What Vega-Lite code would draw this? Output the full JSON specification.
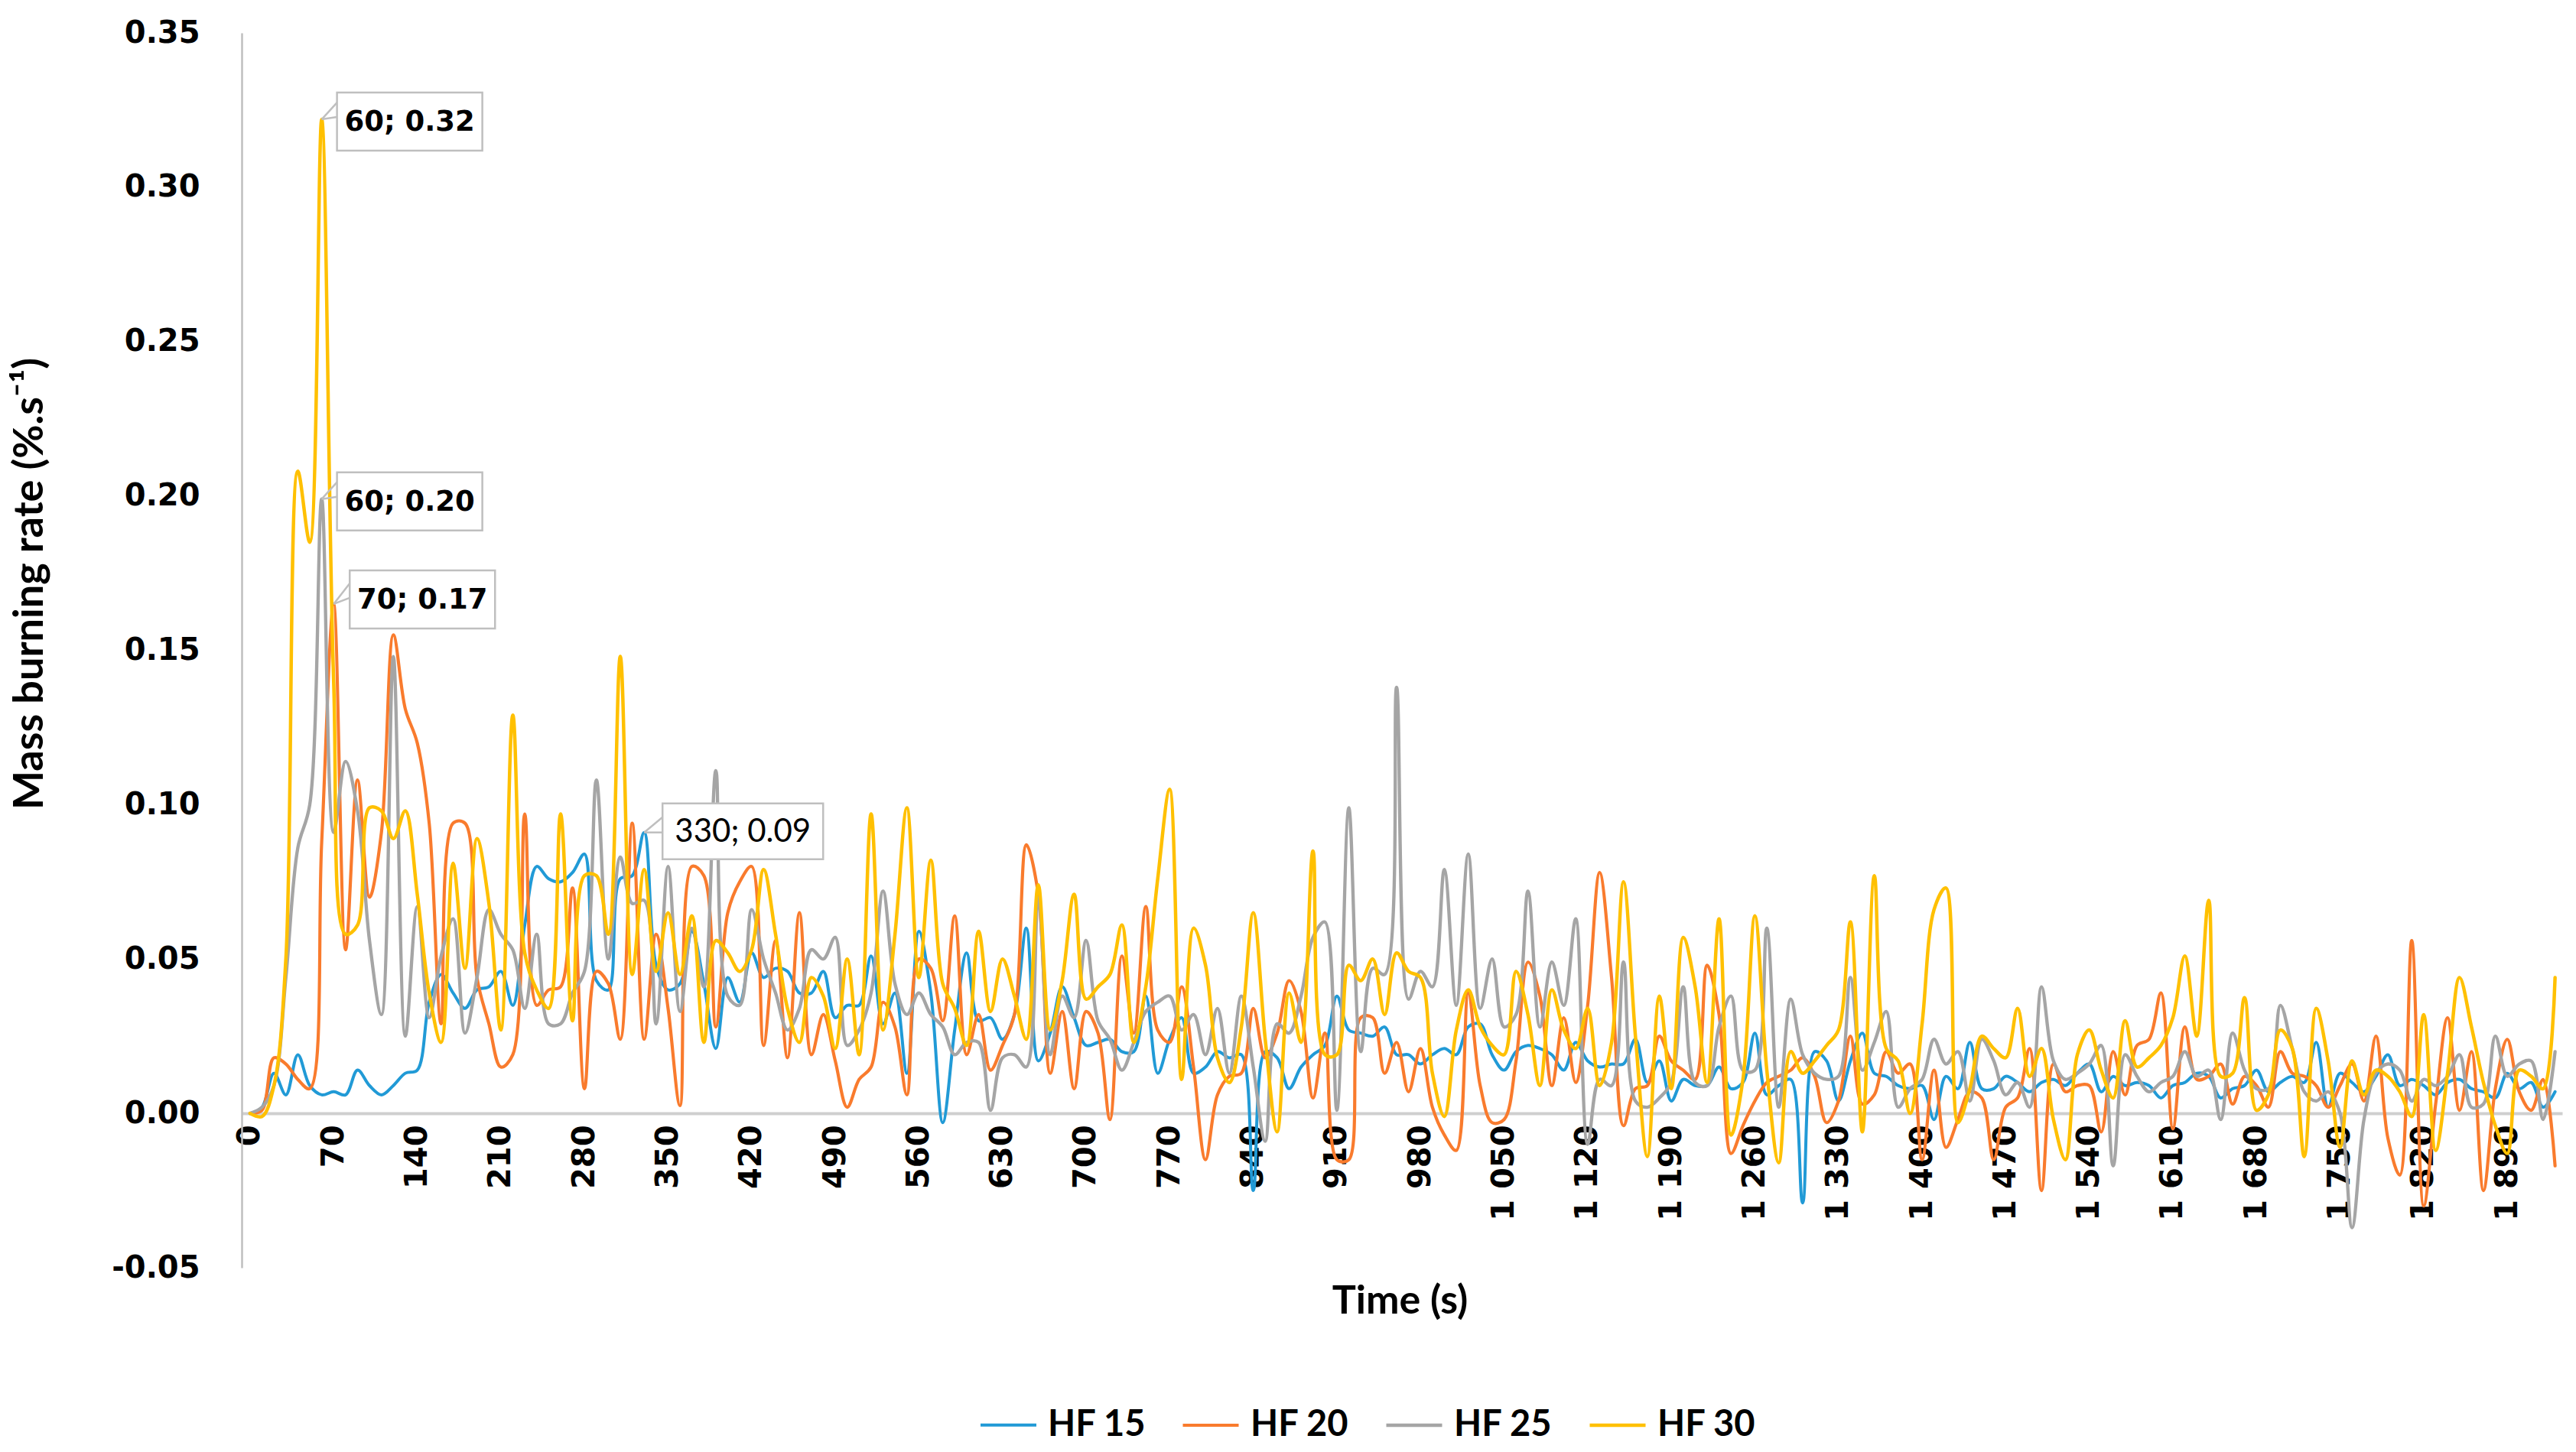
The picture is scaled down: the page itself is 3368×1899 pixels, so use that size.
{
  "$schema": "https://vega.github.io/schema/vega-lite/v6.json",
  "width": 3034,
  "height": 1615,
  "autosize": {"type": "none"},
  "padding": {"left": 316, "top": 43, "right": 18, "bottom": 241},
  "background": "white",
  "config": {"view": {"stroke": null}},
  "datasets": {
    "hf": [
      {"t":0,"HF 15":0,"HF 20":0,"HF 25":0,"HF 30":0},
      {"t":10,"HF 15":0.002,"HF 20":0.001,"HF 25":0.002,"HF 30":-0.001},
      {"t":20,"HF 15":0.013,"HF 20":0.018,"HF 25":0.009,"HF 30":0.009},
      {"t":30,"HF 15":0.006,"HF 20":0.016,"HF 25":0.044,"HF 30":0.05},
      {"t":40,"HF 15":0.019,"HF 20":0.011,"HF 25":0.086,"HF 30":0.208},
      {"t":50,"HF 15":0.009,"HF 20":0.008,"HF 25":0.1,"HF 30":0.185},
      {"t":60,"HF 15":0.006,"HF 20":0.088,"HF 25":0.199,"HF 30":0.322},
      {"t":70,"HF 15":0.007,"HF 20":0.165,"HF 25":0.091,"HF 30":0.14},
      {"t":80,"HF 15":0.006,"HF 20":0.053,"HF 25":0.114,"HF 30":0.058},
      {"t":90,"HF 15":0.014,"HF 20":0.108,"HF 25":0.098,"HF 30":0.061},
      {"t":100,"HF 15":0.009,"HF 20":0.07,"HF 25":0.056,"HF 30":0.099},
      {"t":110,"HF 15":0.006,"HF 20":0.091,"HF 25":0.032,"HF 30":0.098},
      {"t":120,"HF 15":0.009,"HF 20":0.155,"HF 25":0.148,"HF 30":0.089},
      {"t":130,"HF 15":0.013,"HF 20":0.131,"HF 25":0.025,"HF 30":0.098},
      {"t":140,"HF 15":0.014,"HF 20":0.12,"HF 25":0.067,"HF 30":0.071},
      {"t":150,"HF 15":0.036,"HF 20":0.094,"HF 25":0.031,"HF 30":0.039},
      {"t":160,"HF 15":0.045,"HF 20":0.029,"HF 25":0.051,"HF 30":0.023},
      {"t":170,"HF 15":0.039,"HF 20":0.094,"HF 25":0.063,"HF 30":0.081},
      {"t":180,"HF 15":0.034,"HF 20":0.094,"HF 25":0.026,"HF 30":0.047},
      {"t":190,"HF 15":0.04,"HF 20":0.044,"HF 25":0.044,"HF 30":0.089},
      {"t":200,"HF 15":0.041,"HF 20":0.029,"HF 25":0.066,"HF 30":0.068},
      {"t":210,"HF 15":0.046,"HF 20":0.015,"HF 25":0.058,"HF 30":0.027},
      {"t":220,"HF 15":0.035,"HF 20":0.019,"HF 25":0.053,"HF 30":0.129},
      {"t":230,"HF 15":0.061,"HF 20":0.097,"HF 25":0.034,"HF 30":0.052},
      {"t":240,"HF 15":0.08,"HF 20":0.035,"HF 25":0.058,"HF 30":0.04},
      {"t":250,"HF 15":0.076,"HF 20":0.04,"HF 25":0.029,"HF 30":0.034},
      {"t":260,"HF 15":0.075,"HF 20":0.041,"HF 25":0.029,"HF 30":0.097},
      {"t":270,"HF 15":0.078,"HF 20":0.073,"HF 25":0.039,"HF 30":0.03},
      {"t":280,"HF 15":0.084,"HF 20":0.008,"HF 25":0.046,"HF 30":0.077},
      {"t":290,"HF 15":0.043,"HF 20":0.046,"HF 25":0.108,"HF 30":0.077},
      {"t":300,"HF 15":0.04,"HF 20":0.042,"HF 25":0.05,"HF 30":0.058},
      {"t":310,"HF 15":0.076,"HF 20":0.024,"HF 25":0.083,"HF 30":0.148},
      {"t":320,"HF 15":0.077,"HF 20":0.094,"HF 25":0.068,"HF 30":0.045},
      {"t":330,"HF 15":0.091,"HF 20":0.024,"HF 25":0.069,"HF 30":0.079},
      {"t":340,"HF 15":0.048,"HF 20":0.058,"HF 25":0.029,"HF 30":0.046},
      {"t":350,"HF 15":0.04,"HF 20":0.034,"HF 25":0.08,"HF 30":0.065},
      {"t":360,"HF 15":0.042,"HF 20":0.0025,"HF 25":0.033,"HF 30":0.045},
      {"t":370,"HF 15":0.059,"HF 20":0.08,"HF 25":0.06,"HF 30":0.064},
      {"t":380,"HF 15":0.042,"HF 20":0.077,"HF 25":0.041,"HF 30":0.023},
      {"t":390,"HF 15":0.021,"HF 20":0.028,"HF 25":0.111,"HF 30":0.056},
      {"t":400,"HF 15":0.044,"HF 20":0.065,"HF 25":0.038,"HF 30":0.052},
      {"t":410,"HF 15":0.036,"HF 20":0.075,"HF 25":0.035,"HF 30":0.046},
      {"t":420,"HF 15":0.052,"HF 20":0.08,"HF 25":0.066,"HF 30":0.053},
      {"t":430,"HF 15":0.044,"HF 20":0.022,"HF 25":0.05,"HF 30":0.079},
      {"t":440,"HF 15":0.047,"HF 20":0.056,"HF 25":0.039,"HF 30":0.058},
      {"t":450,"HF 15":0.046,"HF 20":0.018,"HF 25":0.027,"HF 30":0.034},
      {"t":460,"HF 15":0.039,"HF 20":0.065,"HF 25":0.034,"HF 30":0.023},
      {"t":470,"HF 15":0.039,"HF 20":0.019,"HF 25":0.053,"HF 30":0.044},
      {"t":480,"HF 15":0.046,"HF 20":0.032,"HF 25":0.05,"HF 30":0.038},
      {"t":490,"HF 15":0.031,"HF 20":0.017,"HF 25":0.057,"HF 30":0.021},
      {"t":500,"HF 15":0.035,"HF 20":0.002,"HF 25":0.022,"HF 30":0.05},
      {"t":510,"HF 15":0.035,"HF 20":0.011,"HF 25":0.027,"HF 30":0.019},
      {"t":520,"HF 15":0.051,"HF 20":0.015,"HF 25":0.039,"HF 30":0.097},
      {"t":530,"HF 15":0.029,"HF 20":0.036,"HF 25":0.072,"HF 30":0.027},
      {"t":540,"HF 15":0.039,"HF 20":0.028,"HF 25":0.042,"HF 30":0.058},
      {"t":550,"HF 15":0.013,"HF 20":0.006,"HF 25":0.032,"HF 30":0.099},
      {"t":560,"HF 15":0.059,"HF 20":0.05,"HF 25":0.039,"HF 30":0.044},
      {"t":570,"HF 15":0.039,"HF 20":0.047,"HF 25":0.032,"HF 30":0.082},
      {"t":580,"HF 15":-0.003,"HF 20":0.03,"HF 25":0.028,"HF 30":0.042},
      {"t":590,"HF 15":0.027,"HF 20":0.064,"HF 25":0.019,"HF 30":0.034},
      {"t":600,"HF 15":0.052,"HF 20":0.019,"HF 25":0.023,"HF 30":0.022},
      {"t":610,"HF 15":0.03,"HF 20":0.032,"HF 25":0.023,"HF 30":0.059},
      {"t":620,"HF 15":0.031,"HF 20":0.014,"HF 25":0.001,"HF 30":0.033},
      {"t":630,"HF 15":0.024,"HF 20":0.022,"HF 25":0.018,"HF 30":0.05},
      {"t":640,"HF 15":0.032,"HF 20":0.032,"HF 25":0.019,"HF 30":0.038},
      {"t":650,"HF 15":0.06,"HF 20":0.087,"HF 25":0.015,"HF 30":0.024},
      {"t":660,"HF 15":0.017,"HF 20":0.071,"HF 25":0.07,"HF 30":0.074},
      {"t":670,"HF 15":0.026,"HF 20":0.013,"HF 25":0.019,"HF 30":0.027},
      {"t":680,"HF 15":0.041,"HF 20":0.033,"HF 25":0.038,"HF 30":0.043},
      {"t":690,"HF 15":0.031,"HF 20":0.008,"HF 25":0.031,"HF 30":0.071},
      {"t":700,"HF 15":0.022,"HF 20":0.033,"HF 25":0.056,"HF 30":0.037},
      {"t":710,"HF 15":0.023,"HF 20":0.026,"HF 25":0.03,"HF 30":0.041},
      {"t":720,"HF 15":0.024,"HF 20":-0.002,"HF 25":0.024,"HF 30":0.045},
      {"t":730,"HF 15":0.02,"HF 20":0.051,"HF 25":0.014,"HF 30":0.061},
      {"t":740,"HF 15":0.02,"HF 20":0.026,"HF 25":0.023,"HF 30":0.023},
      {"t":750,"HF 15":0.038,"HF 20":0.067,"HF 25":0.033,"HF 30":0.041},
      {"t":760,"HF 15":0.013,"HF 20":0.027,"HF 25":0.036,"HF 30":0.076},
      {"t":770,"HF 15":0.024,"HF 20":0.023,"HF 25":0.038,"HF 30":0.105},
      {"t":780,"HF 15":0.031,"HF 20":0.041,"HF 25":0.027,"HF 30":0.011},
      {"t":790,"HF 15":0.013,"HF 20":0.015,"HF 25":0.032,"HF 30":0.06},
      {"t":800,"HF 15":0.015,"HF 20":-0.015,"HF 25":0.019,"HF 30":0.048},
      {"t":810,"HF 15":0.02,"HF 20":0.006,"HF 25":0.034,"HF 30":0.018},
      {"t":820,"HF 15":0.018,"HF 20":0.012,"HF 25":0.013,"HF 30":0.01},
      {"t":830,"HF 15":0.019,"HF 20":0.013,"HF 25":0.038,"HF 30":0.028},
      {"t":840,"HF 15":-0.025,"HF 20":0.034,"HF 25":0.015,"HF 30":0.065},
      {"t":850,"HF 15":0.02,"HF 20":0.018,"HF 25":-0.009,"HF 30":0.024},
      {"t":860,"HF 15":0.018,"HF 20":0.026,"HF 25":0.029,"HF 30":-0.006},
      {"t":870,"HF 15":0.008,"HF 20":0.043,"HF 25":0.026,"HF 30":0.039},
      {"t":880,"HF 15":0.015,"HF 20":0.033,"HF 25":0.038,"HF 30":0.023},
      {"t":890,"HF 15":0.019,"HF 20":0.005,"HF 25":0.057,"HF 30":0.085},
      {"t":900,"HF 15":0.022,"HF 20":0.026,"HF 25":0.062,"HF 30":0.019},
      {"t":910,"HF 15":0.038,"HF 20":-0.015,"HF 25":0.001,"HF 30":0.019},
      {"t":920,"HF 15":0.027,"HF 20":-0.015,"HF 25":0.099,"HF 30":0.048},
      {"t":930,"HF 15":0.026,"HF 20":0.031,"HF 25":0.02,"HF 30":0.043},
      {"t":940,"HF 15":0.025,"HF 20":0.031,"HF 25":0.047,"HF 30":0.05},
      {"t":950,"HF 15":0.028,"HF 20":0.013,"HF 25":0.045,"HF 30":0.032},
      {"t":960,"HF 15":0.019,"HF 20":0.023,"HF 25":0.138,"HF 30":0.052},
      {"t":970,"HF 15":0.019,"HF 20":0.007,"HF 25":0.037,"HF 30":0.046},
      {"t":980,"HF 15":0.016,"HF 20":0.021,"HF 25":0.046,"HF 30":0.044},
      {"t":990,"HF 15":0.019,"HF 20":0.002,"HF 25":0.041,"HF 30":0.013},
      {"t":1000,"HF 15":0.021,"HF 20":-0.007,"HF 25":0.079,"HF 30":-0.001},
      {"t":1010,"HF 15":0.019,"HF 20":-0.012,"HF 25":0.035,"HF 30":0.027},
      {"t":1020,"HF 15":0.028,"HF 20":0.039,"HF 25":0.084,"HF 30":0.04},
      {"t":1030,"HF 15":0.029,"HF 20":0.009,"HF 25":0.034,"HF 30":0.028},
      {"t":1040,"HF 15":0.019,"HF 20":-0.003,"HF 25":0.05,"HF 30":0.022},
      {"t":1050,"HF 15":0.014,"HF 20":-0.002,"HF 25":0.028,"HF 30":0.019},
      {"t":1060,"HF 15":0.02,"HF 20":0.017,"HF 25":0.032,"HF 30":0.046},
      {"t":1070,"HF 15":0.022,"HF 20":0.049,"HF 25":0.072,"HF 30":0.032},
      {"t":1080,"HF 15":0.021,"HF 20":0.038,"HF 25":0.028,"HF 30":0.009},
      {"t":1090,"HF 15":0.019,"HF 20":0.009,"HF 25":0.049,"HF 30":0.04},
      {"t":1100,"HF 15":0.014,"HF 20":0.031,"HF 25":0.035,"HF 30":0.027},
      {"t":1110,"HF 15":0.023,"HF 20":0.01,"HF 25":0.063,"HF 30":0.021},
      {"t":1120,"HF 15":0.017,"HF 20":0.035,"HF 25":-0.01,"HF 30":0.034},
      {"t":1130,"HF 15":0.015,"HF 20":0.078,"HF 25":0.011,"HF 30":0.009},
      {"t":1140,"HF 15":0.016,"HF 20":0.044,"HF 25":0.009,"HF 30":0.023},
      {"t":1150,"HF 15":0.016,"HF 20":-0.004,"HF 25":0.049,"HF 30":0.075},
      {"t":1160,"HF 15":0.024,"HF 20":0.008,"HF 25":0.004,"HF 30":0.025},
      {"t":1170,"HF 15":0.01,"HF 20":0.009,"HF 25":0.002,"HF 30":-0.014},
      {"t":1180,"HF 15":0.017,"HF 20":0.025,"HF 25":0.005,"HF 30":0.038},
      {"t":1190,"HF 15":0.004,"HF 20":0.017,"HF 25":0.01,"HF 30":0.008},
      {"t":1200,"HF 15":0.011,"HF 20":0.014,"HF 25":0.041,"HF 30":0.057},
      {"t":1210,"HF 15":0.009,"HF 20":0.011,"HF 25":0.01,"HF 30":0.041},
      {"t":1220,"HF 15":0.009,"HF 20":0.048,"HF 25":0.009,"HF 30":0.01},
      {"t":1230,"HF 15":0.015,"HF 20":0.032,"HF 25":0.028,"HF 30":0.063},
      {"t":1240,"HF 15":0.008,"HF 20":-0.013,"HF 25":0.038,"HF 30":-0.007},
      {"t":1250,"HF 15":0.01,"HF 20":-0.004,"HF 25":0.014,"HF 30":0.011},
      {"t":1260,"HF 15":0.026,"HF 20":0.004,"HF 25":0.014,"HF 30":0.064},
      {"t":1270,"HF 15":0.006,"HF 20":0.01,"HF 25":0.06,"HF 30":0.014},
      {"t":1280,"HF 15":0.009,"HF 20":0.012,"HF 25":0.002,"HF 30":-0.016},
      {"t":1290,"HF 15":0.011,"HF 20":0.014,"HF 25":0.037,"HF 30":0.02},
      {"t":1300,"HF 15":-0.029,"HF 20":0.018,"HF 25":0.019,"HF 30":0.013},
      {"t":1310,"HF 15":0.02,"HF 20":0.012,"HF 25":0.013,"HF 30":0.017},
      {"t":1320,"HF 15":0.017,"HF 20":-0.003,"HF 25":0.011,"HF 30":0.022},
      {"t":1330,"HF 15":0.004,"HF 20":0.004,"HF 25":0.012,"HF 30":0.027},
      {"t":1340,"HF 15":0.017,"HF 20":0.025,"HF 25":0.044,"HF 30":0.062},
      {"t":1350,"HF 15":0.026,"HF 20":0.003,"HF 25":0.014,"HF 30":-0.006},
      {"t":1360,"HF 15":0.013,"HF 20":0.006,"HF 25":0.023,"HF 30":0.077},
      {"t":1370,"HF 15":0.012,"HF 20":0.02,"HF 25":0.033,"HF 30":0.021},
      {"t":1380,"HF 15":0.009,"HF 20":0.013,"HF 25":0.002,"HF 30":0.017},
      {"t":1390,"HF 15":0.008,"HF 20":0.016,"HF 25":0.008,"HF 30":0},
      {"t":1400,"HF 15":0.009,"HF 20":-0.015,"HF 25":0.011,"HF 30":0.029},
      {"t":1410,"HF 15":-0.002,"HF 20":0.014,"HF 25":0.024,"HF 30":0.066},
      {"t":1420,"HF 15":0.012,"HF 20":-0.011,"HF 25":0.016,"HF 30":0.073},
      {"t":1430,"HF 15":0.008,"HF 20":-0.002,"HF 25":0.02,"HF 30":-0.003},
      {"t":1440,"HF 15":0.023,"HF 20":0.007,"HF 25":0.004,"HF 30":0.008},
      {"t":1450,"HF 15":0.008,"HF 20":0.005,"HF 25":0.024,"HF 30":0.025},
      {"t":1460,"HF 15":0.008,"HF 20":-0.015,"HF 25":0.017,"HF 30":0.021},
      {"t":1470,"HF 15":0.012,"HF 20":0.002,"HF 25":0.006,"HF 30":0.018},
      {"t":1480,"HF 15":0.01,"HF 20":0.005,"HF 25":0.01,"HF 30":0.034},
      {"t":1490,"HF 15":0.007,"HF 20":0.021,"HF 25":0.002,"HF 30":0.012},
      {"t":1500,"HF 15":0.01,"HF 20":-0.025,"HF 25":0.041,"HF 30":0.021},
      {"t":1510,"HF 15":0.011,"HF 20":0.016,"HF 25":0.017,"HF 30":-0.002},
      {"t":1520,"HF 15":0.009,"HF 20":0.007,"HF 25":0.011,"HF 30":-0.015},
      {"t":1530,"HF 15":0.013,"HF 20":0.009,"HF 25":0.013,"HF 30":0.019},
      {"t":1540,"HF 15":0.016,"HF 20":0.009,"HF 25":0.016,"HF 30":0.027},
      {"t":1550,"HF 15":0.007,"HF 20":-0.006,"HF 25":0.022,"HF 30":0.014},
      {"t":1560,"HF 15":0.012,"HF 20":0.02,"HF 25":-0.017,"HF 30":0.005},
      {"t":1570,"HF 15":0.009,"HF 20":0.006,"HF 25":0.019,"HF 30":0.03},
      {"t":1580,"HF 15":0.01,"HF 20":0.022,"HF 25":0.012,"HF 30":0.015},
      {"t":1590,"HF 15":0.009,"HF 20":0.024,"HF 25":0.007,"HF 30":0.018},
      {"t":1600,"HF 15":0.005,"HF 20":0.039,"HF 25":0.01,"HF 30":0.022},
      {"t":1610,"HF 15":0.009,"HF 20":-0.005,"HF 25":0.012,"HF 30":0.031},
      {"t":1620,"HF 15":0.01,"HF 20":0.028,"HF 25":0.02,"HF 30":0.051},
      {"t":1630,"HF 15":0.013,"HF 20":0.011,"HF 25":0.012,"HF 30":0.025},
      {"t":1640,"HF 15":0.012,"HF 20":0.012,"HF 25":0.014,"HF 30":0.069},
      {"t":1650,"HF 15":0.005,"HF 20":0.016,"HF 25":-0.002,"HF 30":0.012},
      {"t":1660,"HF 15":0.008,"HF 20":0.003,"HF 25":0.026,"HF 30":0.013},
      {"t":1670,"HF 15":0.009,"HF 20":0.012,"HF 25":0.014,"HF 30":0.0375},
      {"t":1680,"HF 15":0.014,"HF 20":0.009,"HF 25":0.008,"HF 30":0.001},
      {"t":1690,"HF 15":0.007,"HF 20":0.002,"HF 25":0.008,"HF 30":0.006},
      {"t":1700,"HF 15":0.01,"HF 20":0.02,"HF 25":0.035,"HF 30":0.027},
      {"t":1710,"HF 15":0.012,"HF 20":0.013,"HF 25":0.021,"HF 30":0.021},
      {"t":1720,"HF 15":0.01,"HF 20":0.012,"HF 25":0.007,"HF 30":-0.014},
      {"t":1730,"HF 15":0.023,"HF 20":0.009,"HF 25":0.004,"HF 30":0.034},
      {"t":1740,"HF 15":0.002,"HF 20":0.002,"HF 25":0.007,"HF 30":0.017},
      {"t":1750,"HF 15":0.013,"HF 20":0.009,"HF 25":0,"HF 30":-0.011},
      {"t":1760,"HF 15":0.01,"HF 20":0.016,"HF 25":-0.037,"HF 30":0.017},
      {"t":1770,"HF 15":0.007,"HF 20":0.004,"HF 25":-0.002,"HF 30":0.006},
      {"t":1780,"HF 15":0.012,"HF 20":0.025,"HF 25":0.013,"HF 30":0.014},
      {"t":1790,"HF 15":0.019,"HF 20":-0.008,"HF 25":0.016,"HF 30":0.012},
      {"t":1800,"HF 15":0.009,"HF 20":-0.02,"HF 25":0.014,"HF 30":0.007},
      {"t":1810,"HF 15":0.011,"HF 20":0.056,"HF 25":0.004,"HF 30":-0.001},
      {"t":1820,"HF 15":0.009,"HF 20":-0.03,"HF 25":0.011,"HF 30":0.032},
      {"t":1830,"HF 15":0.006,"HF 20":0.003,"HF 25":0.009,"HF 30":-0.012},
      {"t":1840,"HF 15":0.01,"HF 20":0.031,"HF 25":0.012,"HF 30":0.013},
      {"t":1850,"HF 15":0.011,"HF 20":0.001,"HF 25":0.019,"HF 30":0.044},
      {"t":1860,"HF 15":0.008,"HF 20":0.02,"HF 25":0.002,"HF 30":0.028},
      {"t":1870,"HF 15":0.007,"HF 20":-0.025,"HF 25":0.003,"HF 30":0.01},
      {"t":1880,"HF 15":0.005,"HF 20":0.008,"HF 25":0.025,"HF 30":-0.004},
      {"t":1890,"HF 15":0.013,"HF 20":0.024,"HF 25":0.012,"HF 30":-0.013},
      {"t":1900,"HF 15":0.008,"HF 20":0.007,"HF 25":0.016,"HF 30":0.014},
      {"t":1910,"HF 15":0.01,"HF 20":0.001,"HF 25":0.017,"HF 30":0.012},
      {"t":1920,"HF 15":0.002,"HF 20":0.011,"HF 25":-0.002,"HF 30":0.008},
      {"t":1930,"HF 15":0.007,"HF 20":-0.017,"HF 25":0.02,"HF 30":0.044}
    ],
    "notes": [
      {"t":60,"v":0.322,"label":"60; 0.32"},
      {"t":60,"v":0.199,"label":"60; 0.20"},
      {"t":70,"v":0.165,"label":"70; 0.17"},
      {"t":330,"v":0.091,"label":"330; 0.09"}
    ]
  },
  "encoding": {
    "x": {
      "field": "t", "type": "quantitative",
      "scale": {"domain": [-7, 1936], "nice": false, "zero": false},
      "axis": {
        "values": [0,70,140,210,280,350,420,490,560,630,700,770,840,910,980,1050,1120,1190,1260,1330,1400,1470,1540,1610,1680,1750,1820,1890],
        "labelExpr": "replace(format(datum.value, ','), ',', ' ')",
        "labelAngle": -90,
        "labelFont": "DejaVu Sans", "labelFontWeight": "bold", "labelFontSize": 40, "labelColor": "#000000",
        "labelPadding": 15, "labelOverlap": false, "labelFlush": false, "labelBound": false,
        "ticks": false, "grid": false,
        "domainColor": "#CFCFCF", "domainWidth": 4,
        "offset": -202,
        "title": "Time (s)", "titleFont": "Lato", "titleFontSize": 52, "titleFontWeight": "bold", "titleColor": "#000000",
        "titleX": 1514, "titleY": 245, "titleBaseline": "middle", "titleAlign": "center"
      }
    },
    "y": {
      "field": "v", "type": "quantitative",
      "scale": {"domain": [-0.05, 0.35], "nice": false, "zero": false},
      "axis": {
        "values": [-0.05,0,0.05,0.1,0.15,0.2,0.25,0.3,0.35],
        "labelExpr": "replace(format(datum.value, '.2f'), '\u2212', '-')",
        "labelFont": "DejaVu Sans", "labelFontWeight": "bold", "labelFontSize": 40, "labelColor": "#000000",
        "labelPadding": 55, "labelFlush": false, "labelOverlap": false,
        "ticks": false, "grid": false,
        "domainColor": "#BFBFBF", "domainWidth": 2.5,
        "title": "Mass burning rate  (%.s⁻¹)", "titleFont": "Lato", "titleFontSize": 54, "titleFontWeight": "bold", "titleColor": "#000000",
        "titleX": -277, "titleY": 720, "titleAngle": 270, "titleAlign": "center", "titleBaseline": "middle"
      }
    }
  },
  "layer": [
    {
      "data": {"name": "hf"},
      "transform": [{"fold": ["HF 15", "HF 20", "HF 25", "HF 30"], "as": ["series", "v"]}],
      "mark": {"type": "line", "interpolate": "catmull-rom", "strokeCap": "round", "strokeJoin": "round"},
      "encoding": {
        "color": {
          "field": "series", "type": "nominal",
          "scale": {"domain": ["HF 15", "HF 20", "HF 25", "HF 30"], "range": ["#219AD6", "#F97B2D", "#A5A5A5", "#FFC000"]},
          "legend": {
            "orient": "none", "legendX": 964, "legendY": 1782, "direction": "horizontal", "title": null,
            "symbolType": "stroke", "symbolSize": 5329, "symbolStrokeWidth": 6,
            "labelFont": "Lato", "labelFontSize": 47, "labelFontWeight": "bold", "labelColor": "#000000",
            "labelOffset": 13, "columnPadding": 39, "labelLimit": 400
          }
        },
        "strokeWidth": {
          "field": "series", "type": "nominal",
          "scale": {"domain": ["HF 15", "HF 20", "HF 25", "HF 30"], "range": [4, 4.5, 4.5, 6]},
          "legend": null
        },
        "order": {"field": "t", "type": "quantitative"}
      }
    },
    {
      "data": {"name": "notes"},
      "transform": [{"filter": "datum.t == 60"}],
      "mark": {"type": "rule", "color": "#BFBFBF", "strokeWidth": 2.5, "x2Offset": 20, "y2Offset": -22},
      "encoding": {"x2": {"field": "t"}, "y2": {"field": "v"}}
    },
    {
      "data": {"name": "notes"},
      "transform": [{"filter": "datum.t == 60"}],
      "mark": {"type": "rule", "color": "#BFBFBF", "strokeWidth": 2.5, "x2Offset": 20, "y2Offset": -3},
      "encoding": {"x2": {"field": "t"}, "y2": {"field": "v"}}
    },
    {
      "data": {"name": "notes"},
      "transform": [{"filter": "datum.t == 60"}],
      "mark": {"type": "rect", "fill": "#FFFFFF", "stroke": "#BFBFBF", "strokeWidth": 2.5, "xOffset": 20, "x2Offset": 210, "yOffset": 41, "y2Offset": -35},
      "encoding": {"x2": {"field": "t"}, "y2": {"field": "v"}}
    },
    {
      "data": {"name": "notes"},
      "transform": [{"filter": "datum.t == 60"}],
      "mark": {"type": "text", "font": "DejaVu Sans", "fontWeight": "bold", "fontSize": 37, "color": "#000000", "align": "center", "baseline": "middle", "dx": 115, "dy": 4},
      "encoding": {"text": {"field": "label"}}
    },
    {
      "data": {"name": "notes"},
      "transform": [{"filter": "datum.t == 70"}],
      "mark": {"type": "rule", "color": "#BFBFBF", "strokeWidth": 2.5, "x2Offset": 21, "y2Offset": -27},
      "encoding": {"x2": {"field": "t"}, "y2": {"field": "v"}}
    },
    {
      "data": {"name": "notes"},
      "transform": [{"filter": "datum.t == 70"}],
      "mark": {"type": "rule", "color": "#BFBFBF", "strokeWidth": 2.5, "x2Offset": 21, "y2Offset": -8},
      "encoding": {"x2": {"field": "t"}, "y2": {"field": "v"}}
    },
    {
      "data": {"name": "notes"},
      "transform": [{"filter": "datum.t == 70"}],
      "mark": {"type": "rect", "fill": "#FFFFFF", "stroke": "#BFBFBF", "strokeWidth": 2.5, "xOffset": 21, "x2Offset": 211, "yOffset": 32, "y2Offset": -44},
      "encoding": {"x2": {"field": "t"}, "y2": {"field": "v"}}
    },
    {
      "data": {"name": "notes"},
      "transform": [{"filter": "datum.t == 70"}],
      "mark": {"type": "text", "font": "DejaVu Sans", "fontWeight": "bold", "fontSize": 37, "color": "#000000", "align": "center", "baseline": "middle", "dx": 116, "dy": -5},
      "encoding": {"text": {"field": "label"}}
    },
    {
      "data": {"name": "notes"},
      "transform": [{"filter": "datum.t == 330"}],
      "mark": {"type": "rule", "color": "#BFBFBF", "strokeWidth": 2.5, "x2Offset": 24, "y2Offset": -20},
      "encoding": {"x2": {"field": "t"}, "y2": {"field": "v"}}
    },
    {
      "data": {"name": "notes"},
      "transform": [{"filter": "datum.t == 330"}],
      "mark": {"type": "rule", "color": "#BFBFBF", "strokeWidth": 2.5, "x2Offset": 24, "y2Offset": 0},
      "encoding": {"x2": {"field": "t"}, "y2": {"field": "v"}}
    },
    {
      "data": {"name": "notes"},
      "transform": [{"filter": "datum.t == 330"}],
      "mark": {"type": "rect", "fill": "#FFFFFF", "stroke": "#BFBFBF", "strokeWidth": 2.5, "xOffset": 24, "x2Offset": 234, "yOffset": 35, "y2Offset": -38},
      "encoding": {"x2": {"field": "t"}, "y2": {"field": "v"}}
    },
    {
      "data": {"name": "notes"},
      "transform": [{"filter": "datum.t == 330"}],
      "mark": {"type": "text", "font": "Lato", "fontWeight": "normal", "fontSize": 42, "color": "#000000", "align": "center", "baseline": "middle", "dx": 129, "dy": -1},
      "encoding": {"text": {"field": "label"}}
    }
  ]
}
